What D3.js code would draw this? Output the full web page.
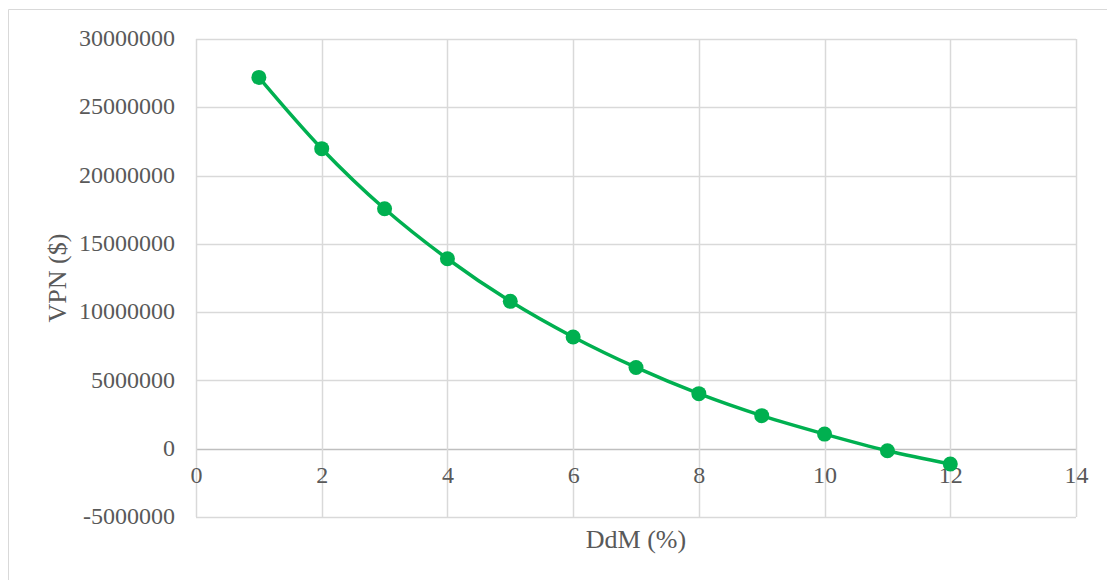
<!DOCTYPE html>
<html>
<head>
<meta charset="utf-8">
<script src="https://cdn.jsdelivr.net/npm/d3@7"></script>
<style>
  html, body { margin: 0; padding: 0; background: #fff; }
  svg { display: block; }
  text { font-family: "Liberation Serif", "Times New Roman", serif; fill: #595959; }
</style>
</head>
<body>
<svg id="chart" width="1107" height="580"></svg>
<script>
// Data
const ddm = [1, 2, 3, 4, 5, 6, 7, 8, 9, 10, 11, 12];
const vpn = [27190000, 21970000, 17570000, 13910000, 10790000, 8180000, 5950000, 4030000, 2420000, 1070000, -150000, -1120000];
const xTicks = [0, 2, 4, 6, 8, 10, 12, 14];
const yTicks = [-5000000, 0, 5000000, 10000000, 15000000, 20000000, 25000000, 30000000];
const xTitle = "DdM (%)";
const yTitle = "VPN ($)";

const svg = d3.select("#chart");
const W = 1107, H = 580;
const m = { left: 196, right: 1076, top: 39, bottom: 517 };

// outer chart border
svg.append("path")
  .attr("d", `M8.5,${H} L8.5,9.5 L${W},9.5`)
  .attr("fill", "none").attr("stroke", "#d9d9d9").attr("stroke-width", 1);

const x = d3.scaleLinear().domain([0, 14]).range([m.left, m.right]);
const y = d3.scaleLinear().domain([-5000000, 30000000]).range([m.bottom, m.top]);

// gridlines
const grid = svg.append("g");
grid.selectAll("line.h").data(yTicks).join("line")
  .attr("x1", m.left).attr("x2", m.right)
  .attr("y1", d => Math.round(y(d)) + 0.5).attr("y2", d => Math.round(y(d)) + 0.5)
  .attr("stroke", d => d === 0 ? "#bfbfbf" : "#d9d9d9").attr("stroke-width", 1.5);
grid.selectAll("line.v").data(xTicks).join("line")
  .attr("y1", m.top).attr("y2", m.bottom)
  .attr("x1", d => Math.round(x(d)) + 0.5).attr("x2", d => Math.round(x(d)) + 0.5)
  .attr("stroke", "#d9d9d9").attr("stroke-width", 1.5);

const fmt = d => String(d);

// y axis labels
const yAxis = d3.axisLeft(y).tickValues(yTicks).tickSize(0).tickPadding(21).tickFormat(fmt);
const gy = svg.append("g").attr("transform", `translate(${m.left},-1)`).call(yAxis);
gy.select(".domain").remove();
gy.selectAll("text").style("font-size", "24px").attr("fill", "#595959")
  .style("font-family", '"Liberation Serif", serif');

// x axis labels, placed at y=0 line
const xAxis = d3.axisBottom(x).tickValues(xTicks).tickSize(0).tickPadding(17).tickFormat(fmt);
const gx = svg.append("g").attr("transform", `translate(0,${y(0)})`).call(xAxis);
gx.select(".domain").remove();
gx.selectAll("text").style("font-size", "24px").attr("fill", "#595959")
  .style("font-family", '"Liberation Serif", serif');

// titles
svg.append("text").attr("x", (m.left + m.right) / 2).attr("y", 548)
  .attr("text-anchor", "middle").style("font-size", "26px").text(xTitle);
svg.append("text").attr("transform", "translate(66,278) rotate(-90)")
  .attr("text-anchor", "middle").style("font-size", "26px").text(yTitle);

// line
const pts = ddm.map((d, i) => [d, vpn[i]]);
const line = d3.line().x(d => x(d[0])).y(d => y(d[1])).curve(d3.curveCatmullRom.alpha(0.5));
svg.append("path").datum(pts).attr("d", line)
  .attr("fill", "none").attr("stroke", "#00B050").attr("stroke-width", 3.5)
  .attr("stroke-linejoin", "round");

svg.append("g").selectAll("circle").data(pts).join("circle")
  .attr("cx", d => x(d[0])).attr("cy", d => y(d[1])).attr("r", 7.5)
  .attr("fill", "#00B050");
</script>
</body>
</html>
